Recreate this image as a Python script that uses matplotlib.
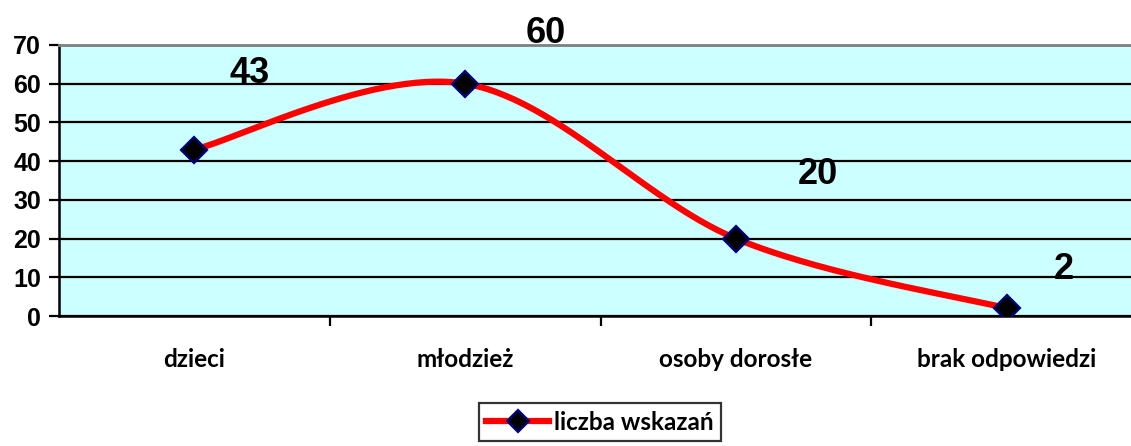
import numpy as np
import matplotlib
matplotlib.use("Agg")
import matplotlib.pyplot as plt
from matplotlib.lines import Line2D

# dane
categories = ['dzieci', 'młodzież', 'osoby dorosłe', 'brak odpowiedzi']
values = [43, 60, 20, 2]
series_name = 'liczba wskazań'
y_ticks = [0, 10, 20, 30, 40, 50, 60, 70]


def smooth_curve(xs, ys, n=60):
    # wygladzanie jak w Excelu (Bezier / Catmull-Rom)
    pts = np.column_stack([xs, ys]).astype(float)
    ext = np.vstack([pts[0], pts, pts[-1]])
    out = []
    for i in range(len(pts) - 1):
        p0, p1, p2, p3 = ext[i], ext[i + 1], ext[i + 2], ext[i + 3]
        c1 = p1 + (p2 - p0) / 6.0
        c2 = p2 - (p3 - p1) / 6.0
        t = np.linspace(0, 1, n)[:, None]
        seg = ((1 - t) ** 3) * p1 + 3 * ((1 - t) ** 2) * t * c1 + 3 * (1 - t) * t ** 2 * c2 + t ** 3 * p2
        out.append(seg)
    out = np.vstack(out)
    return out[:, 0], out[:, 1]


fig = plt.figure(figsize=(11.31, 4.46), dpi=100)
ax = fig.add_axes([59 / 1131, 130 / 446, 1083 / 1131, 271 / 446])
ax.set_facecolor('#CCFFFF')

x = np.arange(len(values))
sx, sy = smooth_curve(x, values)
ax.plot(sx, sy, color='#FF0000', lw=4.5, solid_capstyle='round', zorder=3)
ax.plot(x, values, ls='none', marker='D', markersize=13, markerfacecolor='black',
        markeredgecolor='#000080', markeredgewidth=1.6, zorder=4)

# etykiety danych
offsets = [(40, 55), (58, 36), (59, 46), (41, 28)]
for xi, v, off in zip(x, values, offsets):
    ax.annotate(str(v), (xi, v), xytext=off, textcoords='offset points',
                ha='center', va='center', fontsize=26, fontweight='bold',
                family='Liberation Sans', annotation_clip=False, zorder=5)

ax.set_xlim(-0.5, len(values) - 0.5)
ax.set_ylim(0, 70)
ax.set_yticks(y_ticks)
ax.set_yticklabels([str(t) for t in y_ticks], fontsize=18, fontweight='bold', family='Liberation Sans')
ax.yaxis.grid(True, color='black', lw=1.6)
ax.set_axisbelow(True)

ax.set_xticks(np.arange(len(values) - 1) + 0.5)
ax.set_xticklabels([])
ax.set_xticks(x, minor=True)
ax.set_xticklabels(categories, minor=True, fontsize=17.5, fontweight='bold', family='Lato')
ax.tick_params(axis='x', which='minor', length=0, pad=23)
ax.tick_params(axis='x', which='major', length=7, width=1.6, direction='out')
ax.tick_params(axis='y', length=7, width=1.6, direction='out', pad=6)

for s in ['left', 'bottom']:
    ax.spines[s].set_linewidth(1.8)
    ax.spines[s].set_color('black')
ax.spines['top'].set_color('#808080')
ax.spines['top'].set_linewidth(2)
ax.spines['right'].set_visible(False)

handle = Line2D([], [], color='#FF0000', lw=4.5, marker='D', markersize=11,
                markerfacecolor='black', markeredgecolor='#000080', markeredgewidth=1.6)
leg = fig.legend([handle], [series_name], loc='center', bbox_to_anchor=(600 / 1131, 1 - 422 / 446),
                 frameon=True, fancybox=False, edgecolor='black', handlelength=2.6,
                 handletextpad=0.2, borderpad=0.3, borderaxespad=0.3,
                 prop={'family': 'Lato', 'weight': 'bold', 'size': 17.5})
leg.get_frame().set_linewidth(1.6)

fig.savefig('out.png', dpi=100)
